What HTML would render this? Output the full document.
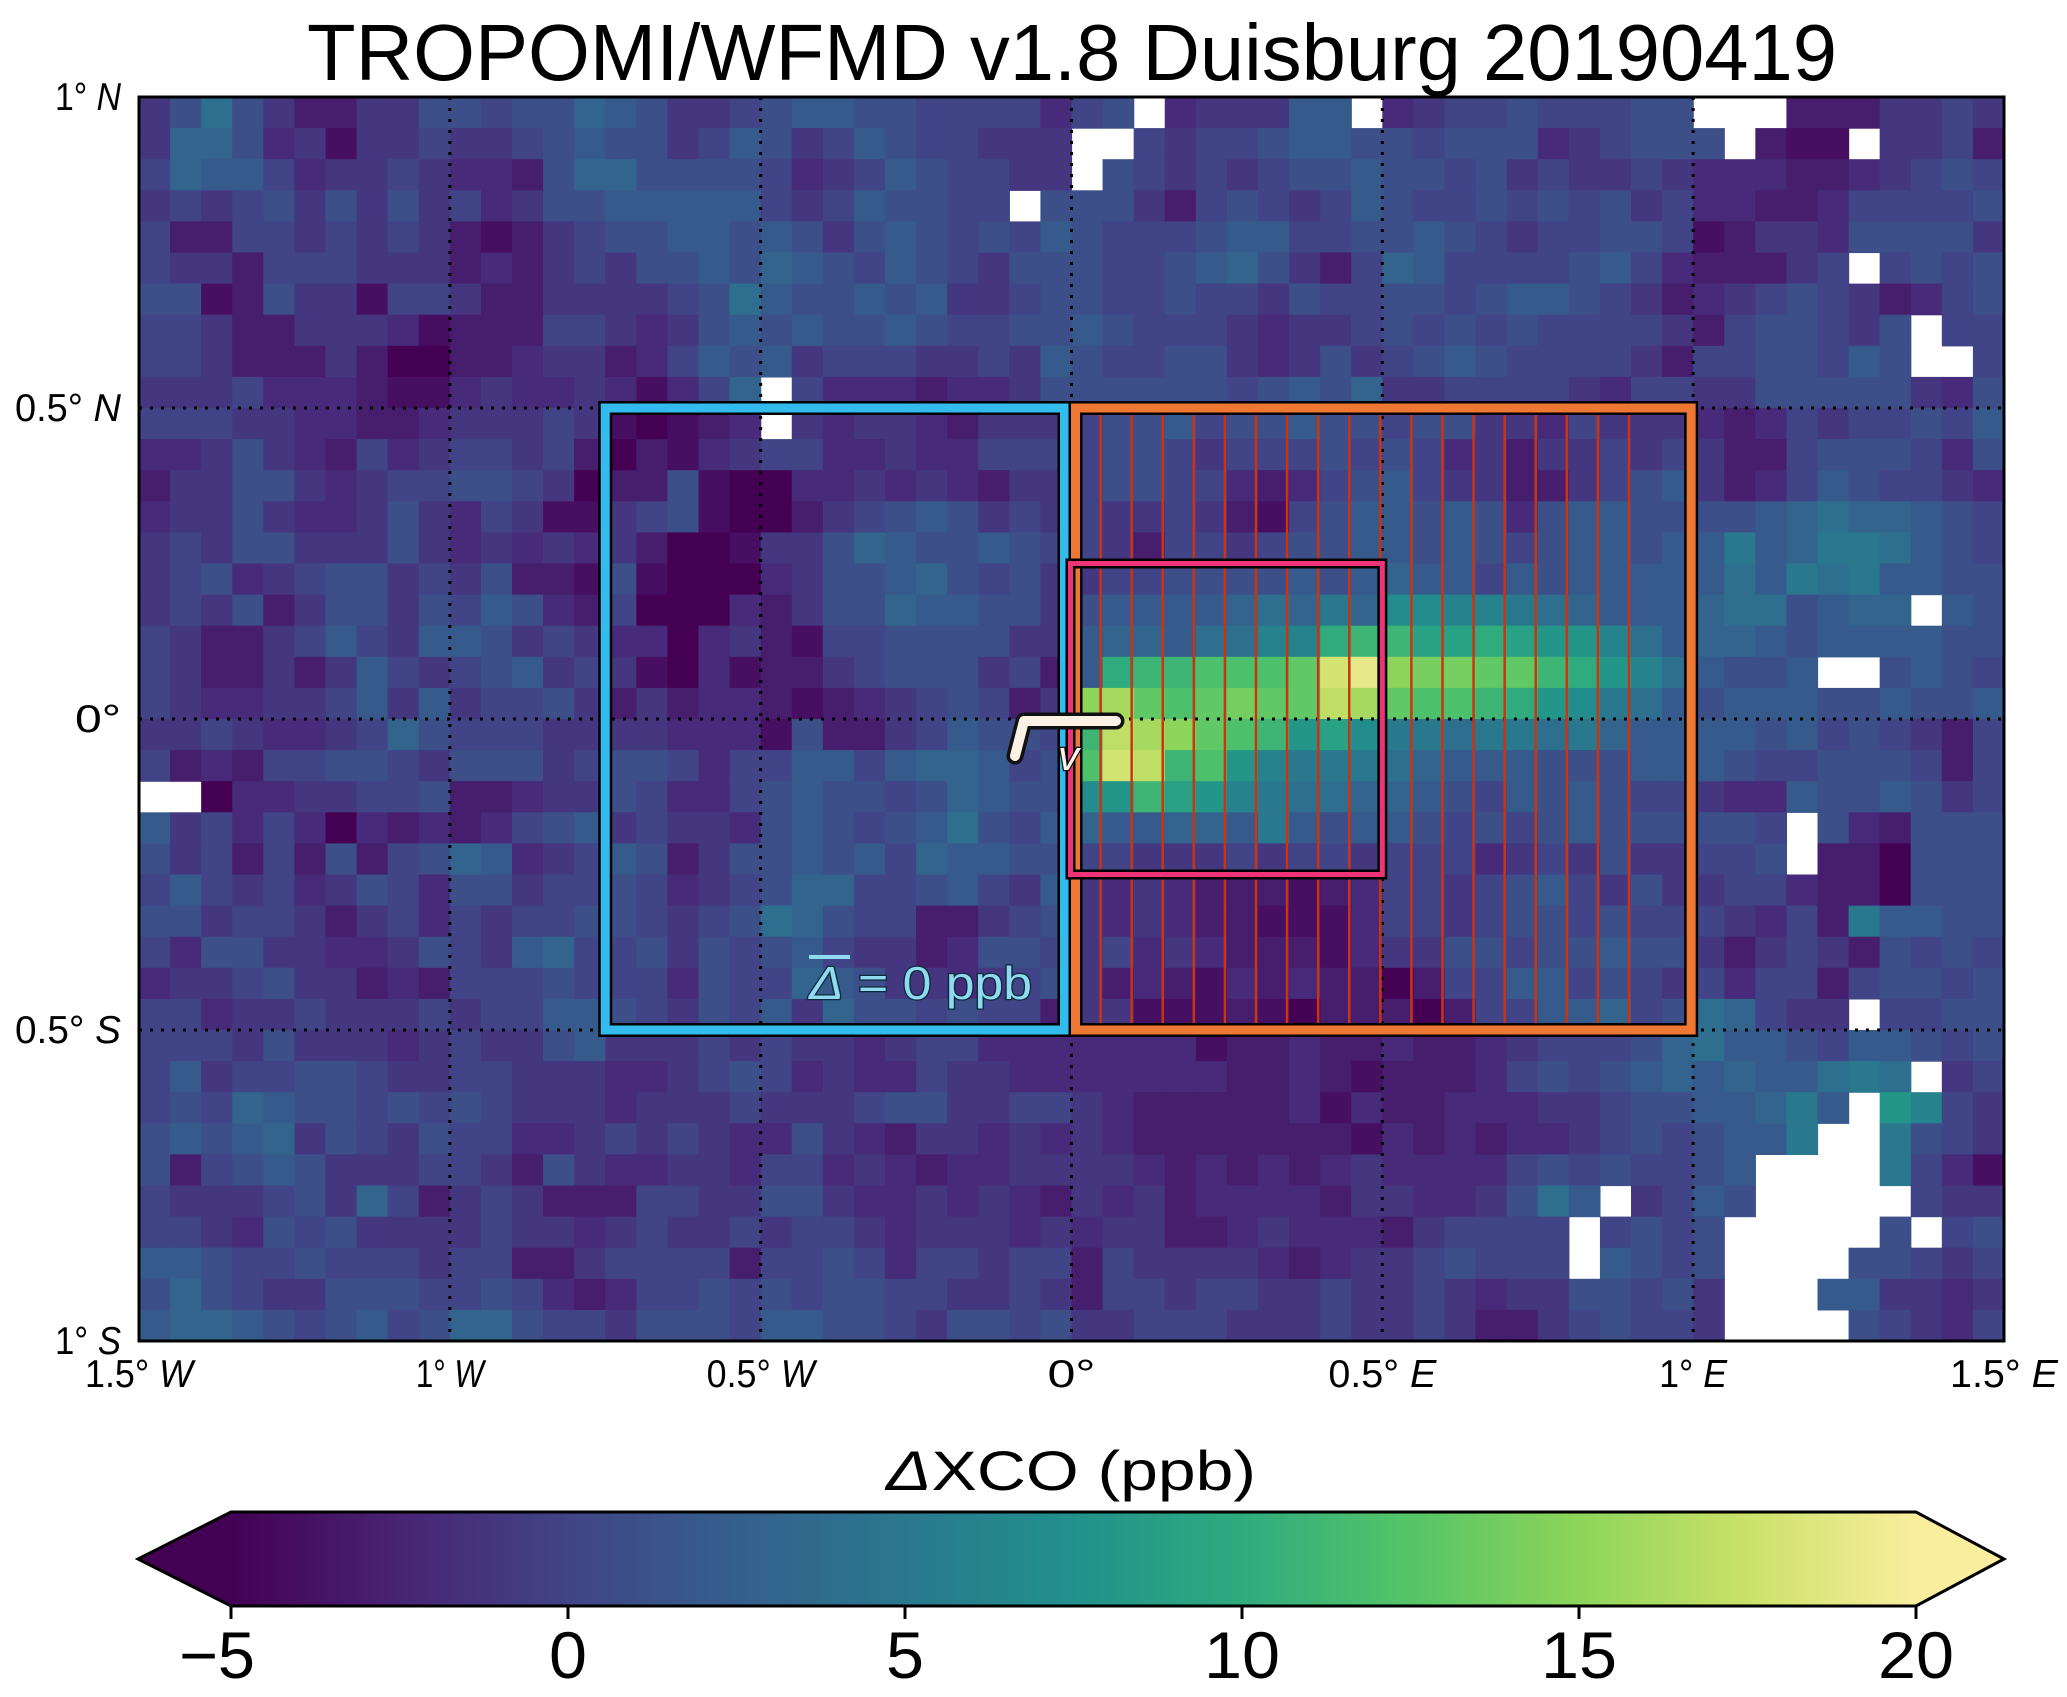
<!DOCTYPE html>
<html><head><meta charset="utf-8"><style>
html,body{margin:0;padding:0;background:#fff;}
svg{display:block;}
text{font-family:"Liberation Sans",sans-serif;}
</style></head><body>
<svg id="chart" width="2067" height="1697" viewBox="0 0 2067 1697" xmlns="http://www.w3.org/2000/svg">
<defs>
<linearGradient id="cbgrad" x1="0" x2="1" y1="0" y2="0"></linearGradient>
<clipPath id="plotclip"><rect x="139" y="97" width="1865" height="1244"/></clipPath>
</defs>
<text x="1072" y="80" font-size="80" text-anchor="middle" textLength="1530" lengthAdjust="spacingAndGlyphs">TROPOMI/WFMD v1.8 Duisburg 20190419</text>
<g id="heat" clip-path="url(#plotclip)"></g>
<g id="grid"></g>
<g id="boxes"></g>
<g id="axes"></g>
<g id="cbar"></g>
</svg>
<script>
// ---- data (ΔXCO ppb, coded: 'a'=-5 ... 'f'=0 ... 'k'=5 ... 'p'=10 ... 'z'=20, '.'=no data)
const lonTicks = [-1.5, -1, -0.5, 0, 0.5, 1, 1.5];
const lonLabels = ["1.5°|W", "1°|W", "0.5°|W", "0°|", "0.5°|E", "1°|E", "1.5°|E"];
const latTicks = [1, 0.5, 0, -0.5, -1];
const latLabels = ["1°|N", "0.5°|N", "0°|", "0.5°|S", "1°|S"];
const cbTicks = [-5, 0, 5, 10, 15, 20];
const cbLabels = ["−5", "0", "5", "10", "15", "20"];
const vmin = -5, vmax = 20;
const lonMin = -1.5, lonMax = 1.5, latMin = -1, latMax = 1;
const nCols = 60, nRows = 40;
const leftRows = [
"e g j g e c c e e g g f g g i h g e e f g h h g g f f f f d",
"e i i g d e b e e f e e f g h g g e f h g e f h g f f e e e",
"f i h h f d e e f e d d c g i i g g g g f d e f h g f f e e",
"e f e f g e g e g e f d e g g h h h h h f e f h g g f f . g",
"f c c f f e f e f e c b c e f g g h h g h g e g h g f g f h",
"f e e c f f f e e e c d c e f e g g h g i h g f h g f e g g",
"g g b c g e e b f f e c c e e e e f g j h g g h g h e e f g",
"f f e c c e e e d b c c c f f e d e g h g h g g h g f f g g",
"f f e c c c e c a a c c d e e c d f h g h e f f f e e f e h",
"e e e f d d d c b b d e d d e d b d f i . f d d d c d d e g",
"f f f e e d d c c d e e e f e b a b c d . e d e e d c e e e",
"d d e g e d c f d e f f e f c a c b d e f f d d e d d f f f",
"c e e g g e d e f f g g f e a c c g b a a d d e d e d c e e",
"d e e g e d d e g e d f e b b e f g b a a c e f g h g e f e",
"e f e g g e e e g e d e d e d e c a a b e e g i h g g h g f",
"e f g d e f g g e f e g c c b g b a a a d e g g h i g f g e",
"e f e g c e g g e g f h g d c f a a a d c e g g i h h g g e",
"f e c c e f h f e h h g e f e d d a d e c b f f g g g g e e",
"f e c c e c e h f e f g h e f e b a d b c c e f g g g e f c",
"f e d d e e f h e h e f f g e c e c d d c b c d e f g f c e",
"e e f e d d e f i g f f f e e e e d d d b g c c e f h g g f",
"f c d c f f g g f e g g g e f g g f d f f h h f h i i h f g",
". . a d d e e f f g c c d e e g f d d f g h g g f g i h g g",
"h e f d f d a d c d c d f g h e f e e d g h g f g h j g f h",
"g e f c f c g c f g i h d e f h g c e g g h g h f i h h g g",
"f h f e f d e g f d g g e f f g f d e f g i i f f g h f e h",
"g g e f f e c e f d f e f f g g f e f g j i g f f c c e f g",
"f d g g e e d d e g f e h i f f g e g f g h f e e c d g g f",
"d e e f g e e c d c f f f g f f f d g f f i h g e e d e f g",
"f f d e e f e e e f e f f h h g f e g f h e i g g f g f f c",
"f f f e g e e e d e f e e g h e e e f e f e e d e f f d d d",
"f h e f f g g f e e f f e e e d d e f g f d e d d f e e d d",
"f g f i h g g f g f g f e e e d e e e f e e e f g g e e f f",
"g h g h i e g f e g f f d d e f e f e d d g e d c e e d e d",
"g c f g h g e e e f f e c g e d d e e d f f d e d c d d e e",
"f e e e f g e i f c e f e c c c f f e e g g e d d e d e d c",
"f f e d g f g e e e e f e e d e f e e f e f f e d e e e d e",
"h h g f f g f f f e f f c c e f f f f c f f g f d f f e f f",
"g i g f e e g g g f f g f d c d f f g f g f g g f f e e f e",
"h i i h g f g h f g i i g f f e g g g f h h g g f e g g f g"
];
const rightRows = [
"f g . d e e e h h . d e f f g f f f g g . . . c c c e e f e",
". . f e f f g h h g g f g g g d e f g g g . c b b . e e f c",
". g f e f e f g g h g g f g e f e e f e d d d c c d e f g f",
"g g e c f g f e f h g f f g f g f g e f d d c c d f f f f g",
"g f f f g h h f f g g h g f e f f g g f b c e e d g g g g e",
"g f f g h i g e c f i h f f f f g h f d c c c e f . f g f g",
"g f f g f f e g f f g g f g h h g f e c d e f g f e c d f g",
"h g f f f e d e e f g f g f g f f f f e c f g g f e g . f f",
"g f f g g e d e g e f g h g f f f f e c f f g g f h g . . f",
"g g g g g f g h g i e e f f f f e d f f e e g g g g g e d g",
"f g g h f g g h g g f g g e e d f e e e d c d f e f f g f h",
"f g g f e f f f g f g f d e c e e f e f e c c f g g g f d g",
"f g g f f d c d f g h f e e c c e f g h e c d f h g f f e d",
"f e e f e c b f g h h g h g d g h h g g g g h i j i i h g f",
"f e c f f e f g g h h g h g f g h h g h h k h i k k j h g f",
"e f f g g g g h g h i h h f h g h h h h h j h k j k h h g g",
"g h h h h i j i k i m m l l k j i h h h i j j g h i i . h g",
"h i i h j j l l p q q o o p o n n l j h i i h g h h h h g g",
"h p q q r r r s x y u t t s s q p n l j h g g h . . g h g f",
"u v s r s t s s w v s r r q p n m k j h g h h h g g h g g h",
"q w v u s r q n o m k k j k k j k i h h h h g h f g f e c f",
"r x w q r n l k k k j i h h h g g g h h h g f f g g g f c f",
"m n q o n l k j j i i h g f h g h g f f e d d h g g h g e f",
"i h h i i h k h g h h g f g f g h g g g g g f . g d c g g g",
"f f e e e f e f f e f f f d e f e g e e f f g . c c a g g g",
"e d e d c c c b c d f f e f g h f e g e e f f d c c a g g g",
"e d e d c c b b b d f f e f g g f g f f f e d f c k h h g g",
"e f d e d c c c b d e e g g f g g h g g e c e f e c g f g f",
"e c d c b d c d c c a c f f h h f g f e f d f f c f g g f g",
"e e b b b c b a c c c a c f f h h i f g j i f e e . f f g g",
"d d d d b c c d c c d c c d e f f f g i j h h g f h h g f g",
"d d d d d c c d c b c c c d f g f g h i h i h h j k j . e f",
"e d c c c c c d b d c c d d d e e f g g h h i k h . n l f e",
"e d c c c c c c c b d c d c d d e f g f g h h k . . k g f e",
"e e d c d c d c d e d d d d f g f g f f g h . . . . k f d b",
"e d e c d d d d c e e d d e g j h . e f h g . . . . . f e e",
"d e e c c d e d d d c e f f f f . f g f g . . . . . g . f g",
"c f e e e e d c d e e f g f f f . h g f g . . . . g g f e f",
"c f f e f f e e f e e f e d e e g g f g e . . . h h e e d e",
"e e f f f e e e f e e f e c c e f g f f e . . . . g f e d f"
];
const boxWest = [-0.75, 0, -0.5, 0.5];   // lon0, lon1, lat0, lat1
const boxEast = [0, 1, -0.5, 0.5];
const boxCore = [0, 0.5, -0.25, 0.25];

// ---- geometry
const X0 = 139, X1 = 2004, Y0 = 97, Y1 = 1341;
const xs = lon => X0 + (lon - lonMin) / (lonMax - lonMin) * (X1 - X0);
const ys = lat => Y0 + (latMax - lat) / (latMax - latMin) * (Y1 - Y0);
const CB0 = 231, CB1 = 1916, CBT = 1512, CBB = 1606;
const cbx = v => CB0 + (v - vmin) / (vmax - vmin) * (CB1 - CB0);

const stops = [[0,"#440154"],[0.1,"#482475"],[0.2,"#414487"],[0.3,"#355f8d"],[0.4,"#2a788e"],[0.5,"#21918c"],[0.6,"#2fab7e"],[0.7,"#55c568"],[0.8,"#8dd45a"],[0.9,"#cbe168"],[1,"#f9ee9e"]];
function hex(c){return [parseInt(c.slice(1,3),16),parseInt(c.slice(3,5),16),parseInt(c.slice(5,7),16)];}
function cmap(v){
  let t = Math.max(0, Math.min(1, (v - vmin) / (vmax - vmin)));
  for (let i = 0; i < stops.length - 1; i++) {
    if (t <= stops[i+1][0]) {
      const f = (t - stops[i][0]) / (stops[i+1][0] - stops[i][0]);
      const a = hex(stops[i][1]), b = hex(stops[i+1][1]);
      return "rgb(" + a.map((x,k)=>Math.round(x + (b[k]-x)*f)).join(",") + ")";
    }
  }
  return stops[stops.length-1][1];
}
const NS = "http://www.w3.org/2000/svg";
function mk(tag, attrs, parent){
  const e = document.createElementNS(NS, tag);
  for (const k in attrs) e.setAttribute(k, attrs[k]);
  if (parent) parent.appendChild(e);
  return e;
}
function decode(ch){ if (ch === "." || ch === undefined) return null; return vmin + (ch.charCodeAt(0) - 97); }

// ---- heatmap
const heat = document.getElementById("heat");
const dLon = (lonMax - lonMin) / nCols, dLat = (latMax - latMin) / nRows;
for (let r = 0; r < nRows; r++) {
  const row = (leftRows[r] || "").replace(/ /g, "").padEnd(30, "f").slice(0,30) + (rightRows[r] || "").replace(/ /g, "").padEnd(30, "f").slice(0,30);
  for (let c = 0; c < nCols; c++) {
    const v = decode(row[c]);
    if (v === null) continue;
    const lon = lonMin + c * dLon, lat = latMax - r * dLat;
    const x = xs(lon), y = ys(lat);
    const cell = mk("rect", {x: x, y: y, width: xs(lon + dLon) - x + 0.6, height: ys(lat - dLat) - y + 0.6, fill: cmap(v)}, heat);
    
    
  }
}

// ---- graticule
const grid = document.getElementById("grid");
for (const lon of [-1, -0.5, 0, 0.5, 1]) {
  const l = mk("line", {x1: xs(lon), x2: xs(lon), y1: Y0, y2: Y1, stroke: "#000", "stroke-width": 3, "stroke-dasharray": "3 8"}, grid);
  
  
}
for (const lat of [0.5, 0, -0.5]) {
  const l = mk("line", {x1: X0, x2: X1, y1: ys(lat), y2: ys(lat), stroke: "#000", "stroke-width": 3, "stroke-dasharray": "3 8"}, grid);
  
  
}

// ---- boxes
const boxes = document.getElementById("boxes");
function framed(b, color, w, insetL, insetR, name){
  const x = xs(b[0]) + insetL, x2 = xs(b[1]) - insetR, y = ys(b[3]), y2 = ys(b[2]);
  const g = mk("g", {}, boxes);
  
  
  mk("rect", {x: x, y: y, width: x2 - x, height: y2 - y, fill: "none", stroke: "#000", "stroke-width": w + 5}, g);
  mk("rect", {x: x, y: y, width: x2 - x, height: y2 - y, fill: "none", stroke: color, "stroke-width": w}, g);
  return g;
}
framed(boxWest, "#33bbee", 9, 0, 7, "upwind-box");
const east = framed(boxEast, "#ee7733", 9, 4, 2, "downwind-box");
for (let k = 1; k < 19; k++) {
  const lx = xs(boxEast[0] + k * dLon) - 2;
  const l = mk("line", {x1: lx, x2: lx, y1: ys(boxEast[3]) + 7, y2: ys(boxEast[2]) - 7, stroke: "#cc3311", "stroke-width": 2.5}, boxes);
  
  
}
framed(boxCore, "#ee3377", 5, -1, 0, "source-box");

// wind indicator
const wind = mk("g", {}, boxes);


mk("polyline", {points: "1015,756 1024,721 1116,721", fill: "none", stroke: "#111", "stroke-width": 17, "stroke-linecap": "round", "stroke-linejoin": "round"}, wind);
mk("polyline", {points: "1015,756 1024,721 1116,721", fill: "none", stroke: "#fbf1e4", "stroke-width": 10, "stroke-linecap": "round", "stroke-linejoin": "round"}, wind);
const vt = mk("text", {x: 1058, y: 770, "font-size": 42, "font-style": "italic", fill: "#fbf1e4", stroke: "#111", "stroke-width": 2.5, "paint-order": "stroke"}, wind);
vt.textContent = "v";



const dlt = mk("g", {}, boxes);


mk("line", {x1: 809, x2: 850, y1: 957, y2: 957, stroke: "#8fdaf0", "stroke-width": 4}, dlt);
const dt = mk("text", {x: 809, y: 999, "font-size": 46, fill: "#8fdaf0", stroke: "#0b2a3a", "stroke-width": 2.5, "paint-order": "stroke", textLength: 223, lengthAdjust: "spacingAndGlyphs"}, dlt);
dt.innerHTML = '<tspan font-style="italic">Δ</tspan> = 0 ppb';



// ---- axes
const axes = document.getElementById("axes");
const frame = mk("rect", {x: X0, y: Y0, width: X1 - X0, height: Y1 - Y0, fill: "none", stroke: "#000", "stroke-width": 3}, axes);


function degLabel(parent, txt, x, y, anchor, fs, len){
  const p = txt.split("|");
  const t = mk("text", {x: x, y: y, "font-size": fs, "text-anchor": anchor, textLength: len, lengthAdjust: "spacingAndGlyphs"}, parent);
  t.innerHTML = p[0] + (p[1] ? ' <tspan font-style="italic">' + p[1] + '</tspan>' : '');
  return t;
}
lonTicks.forEach((lon, i) => {
  const n = lonLabels[i].replace("|", "").length;
  const t = degLabel(axes, lonLabels[i], xs(lon), 1387, "middle", 39, n * 20 + 8);
  
  
});
latTicks.forEach((lat, i) => {
  const n = latLabels[i].replace("|", "").length;
  const t = degLabel(axes, latLabels[i], 121, ys(lat) + 13, "end", 39, n * 20 + 6);
  
  
});

// ---- colorbar
const grad = document.getElementById("cbgrad");
for (let i = 0; i <= 50; i++) {
  mk("stop", {offset: (i / 50), "stop-color": cmap(vmin + i / 50 * (vmax - vmin))}, grad);
}
const cbar = document.getElementById("cbar");
const cbTitle = mk("text", {x: 1071, y: 1490, "font-size": 56, "text-anchor": "middle", textLength: 370, lengthAdjust: "spacingAndGlyphs"}, cbar);
cbTitle.innerHTML = '<tspan font-style="italic">Δ</tspan>XCO (ppb)';


const mid = (CBT + CBB) / 2;
const lt = mk("polygon", {points: `${CB0},${CBT} 138,${mid} ${CB0},${CBB}`, fill: cmap(vmin - 1)}, cbar);


const rt = mk("polygon", {points: `${CB1},${CBT} 2004,${mid} ${CB1},${CBB}`, fill: cmap(vmax + 1)}, cbar);


const cr = mk("rect", {x: CB0, y: CBT, width: CB1 - CB0, height: CBB - CBT, fill: "url(#cbgrad)"}, cbar);


mk("polygon", {points: `${CB0},${CBT} ${CB1},${CBT} 2004,${mid} ${CB1},${CBB} ${CB0},${CBB} 138,${mid}`, fill: "none", stroke: "#000", "stroke-width": 3}, cbar);
cbTicks.forEach((v, i) => {
  const tk = mk("line", {x1: cbx(v), x2: cbx(v), y1: CBB, y2: CBB + 13, stroke: "#000", "stroke-width": 3}, cbar);
  
  
  const n = cbLabels[i].length;
  const t = mk("text", {x: cbx(v) + (cbLabels[i][0] === "−" ? -14 : 0), y: 1678, "font-size": 66, "text-anchor": "middle", textLength: n * 38, lengthAdjust: "spacingAndGlyphs"}, cbar);
  t.textContent = cbLabels[i];
  
  
});
</script>
</body></html>
